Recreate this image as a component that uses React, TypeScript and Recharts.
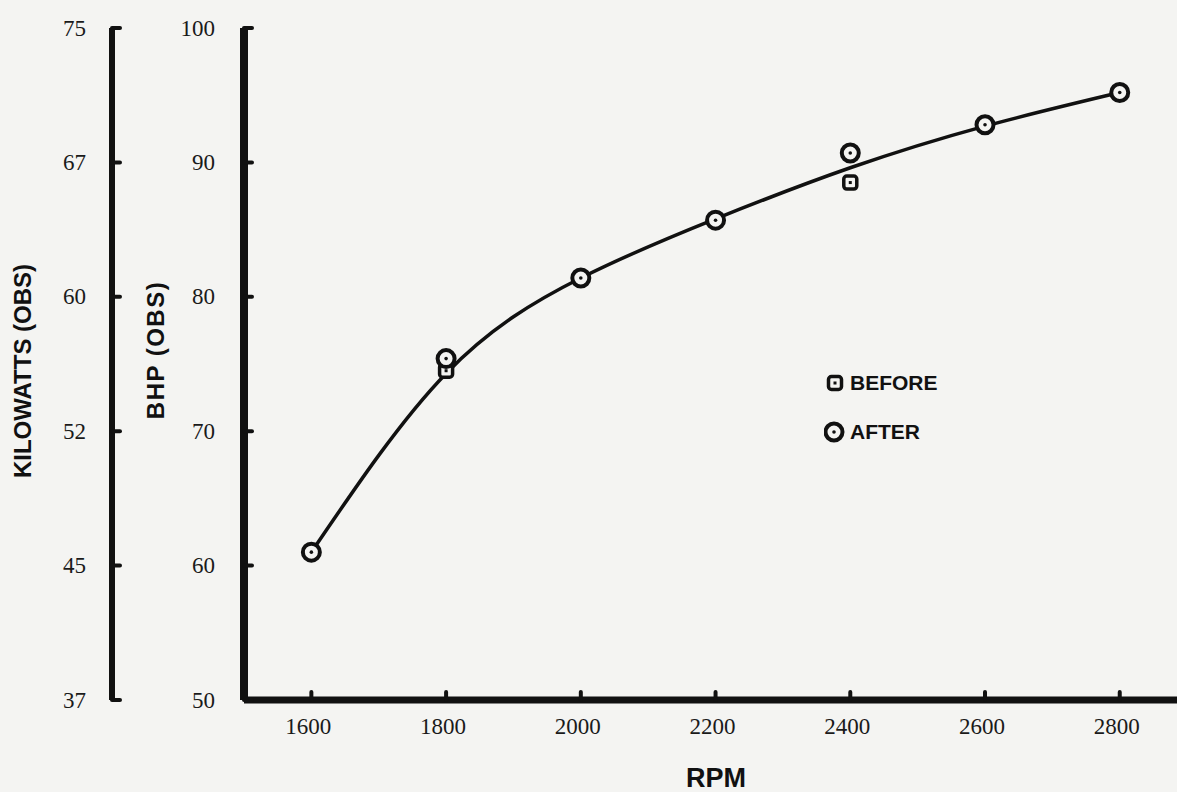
import React from "react";
import {
  ComposedChart,
  Line,
  Scatter,
  XAxis,
  YAxis,
  Legend,
} from "recharts";

// values
const rpmPoints = [1600, 1800, 2000, 2200, 2400, 2600, 2800];
const bhpBefore = [61.0, 74.5, 81.4, 85.7, 88.5, 92.8, 95.2];
const bhpAfter = [61.0, 75.4, 81.4, 85.7, 90.7, 92.8, 95.2];

// faired curve drawn through the points
const curveRpm = [1600, 1800, 2000, 2200, 2400, 2600, 2800];
const curveBhp = [61.0, 74.3, 81.4, 85.8, 89.6, 92.7, 95.2];

const rpmTicks = [1600, 1800, 2000, 2200, 2400, 2600, 2800];
const bhpTicks = [50, 60, 70, 80, 90, 100];
const kwTickLabels = ["37", "45", "52", "60", "67", "75"];

const beforeData = rpmPoints.map((rpm, i) => ({ rpm, bhp: bhpBefore[i] }));
const afterData = rpmPoints.map((rpm, i) => ({ rpm, bhp: bhpAfter[i] }));
const curveData = curveRpm.map((rpm, i) => ({ rpm, bhp: curveBhp[i] }));

const INK = "#111";
const PAPER = "#f4f4f2";
const SERIF = "'Liberation Serif', 'DejaVu Serif', serif";
const SANS = "'Liberation Sans', Arial, sans-serif";

function YTick({ x, y, payload, gap, kw }: any) {
  const idx = bhpTicks.indexOf(payload.value);
  const label = kw ? kwTickLabels[idx] : String(payload.value);
  return (
    <g>
      <line x1={x} x2={x + 8} y1={y} y2={y} stroke={INK} strokeWidth={4} strokeLinecap="round" />
      <text
        x={x - gap}
        y={y}
        textAnchor="end"
        dominantBaseline="central"
        fontFamily={SERIF}
        fontSize={23}
        fill="#1a1a1a"
      >
        {label}
      </text>
    </g>
  );
}

function XTick({ x, y, payload }: any) {
  return (
    <g>
      <line x1={x} x2={x} y1={y} y2={y - 8} stroke={INK} strokeWidth={4} strokeLinecap="round" />
      <text
        x={x - 3}
        y={y + 26}
        textAnchor="middle"
        dominantBaseline="central"
        fontFamily={SERIF}
        fontSize={23}
        fill="#1a1a1a"
      >
        {payload.value}
      </text>
    </g>
  );
}

function SquareMark({ cx, cy }: any) {
  return (
    <g>
      <rect x={cx - 6.5} y={cy - 6.5} width={13} height={13} rx={3}
        fill={PAPER} stroke={INK} strokeWidth={3.5} />
      <rect x={cx - 1.5} y={cy - 1.5} width={3} height={3} fill={INK} />
    </g>
  );
}

function CircleMark({ cx, cy }: any) {
  return (
    <g>
      <circle cx={cx} cy={cy} r={8.5} fill={PAPER} stroke={INK} strokeWidth={4} />
      <circle cx={cx} cy={cy} r={1.8} fill={INK} />
    </g>
  );
}

function LegendBox() {
  const row: React.CSSProperties = {
    display: "flex",
    alignItems: "center",
    fontFamily: SANS,
    fontWeight: 700,
    fontSize: 21,
    color: INK,
    height: 26,
  };
  return (
    <div>
      <div style={row}>
        <svg width={26} height={24}>
          <SquareMark cx={11} cy={12} />
        </svg>
        <span>BEFORE</span>
      </div>
      <div style={{ ...row, marginTop: 23 }}>
        <svg width={26} height={24}>
          <CircleMark cx={10} cy={12} />
        </svg>
        <span>AFTER</span>
      </div>
    </div>
  );
}

const rotLabel = (text: string, cx: number, cy: number, size: number, spacing = 0) => () => (
  <text
    x={cx}
    y={cy}
    transform={`rotate(-90 ${cx} ${cy})`}
    textAnchor="middle"
    dominantBaseline="central"
    fontFamily={SANS}
    fontWeight={700}
    fontSize={size}
    letterSpacing={spacing}
    fill={INK}
  >
    {text}
  </text>
);

export default function App() {
  return (
    <div style={{ position: "absolute", left: 0, top: 0, width: 1177, height: 792, background: PAPER }}>
      <ComposedChart
        width={1177}
        height={792}
        margin={{ top: 28, right: 0, bottom: 30, left: 0 }}
      >
        <XAxis
          type="number"
          dataKey="rpm"
          domain={[1500, 2885]}
          allowDataOverflow
          ticks={rpmTicks}
          tickSize={0}
          tickMargin={0}
          tick={<XTick />}
          axisLine={{ stroke: INK, strokeWidth: 7 }}
          tickLine={false}
          height={62}
          label={{
            content: () => (
              <text x={716} y={787} textAnchor="middle" fontFamily={SANS}
                fontWeight={700} fontSize={27} fill={INK}>RPM</text>
            ),
          }}
        />
        <YAxis
          yAxisId="bhp"
          type="number"
          domain={[50, 100]}
          ticks={bhpTicks}
          width={132}
          tickSize={0}
          tickMargin={0}
          tick={<YTick gap={29} />}
          axisLine={{ stroke: INK, strokeWidth: 8 }}
          tickLine={false}
          label={{ content: rotLabel("BHP (OBS)", 155, 350, 24, 1.5) }}
        />
        <YAxis
          yAxisId="kw"
          type="number"
          domain={[50, 100]}
          ticks={bhpTicks}
          width={112}
          tickSize={0}
          tickMargin={0}
          tick={<YTick gap={26} kw />}
          axisLine={{ stroke: INK, strokeWidth: 6 }}
          tickLine={false}
          label={{ content: rotLabel("KILOWATTS (OBS)", 22, 371, 24) }}
        />
        <Line
          yAxisId="kw"
          data={curveData}
          dataKey="bhp"
          stroke="none"
          dot={false}
          legendType="none"
          isAnimationActive={false}
        />
        <Line
          yAxisId="bhp"
          data={curveData}
          dataKey="bhp"
          type="natural"
          stroke={INK}
          strokeWidth={3.5}
          dot={false}
          isAnimationActive={false}
        />
        <Scatter
          yAxisId="bhp"
          name="BEFORE"
          data={beforeData}
          dataKey="bhp"
          shape={<SquareMark />}
          isAnimationActive={false}
        />
        <Scatter
          yAxisId="bhp"
          name="AFTER"
          data={afterData}
          dataKey="bhp"
          shape={<CircleMark />}
          isAnimationActive={false}
        />
        <Legend
          layout="horizontal"
          verticalAlign="middle"
          align="center"
          content={<LegendBox />}
          wrapperStyle={{ left: 824, top: 370, width: 170, height: 80 }}
        />
      </ComposedChart>
    </div>
  );
}
